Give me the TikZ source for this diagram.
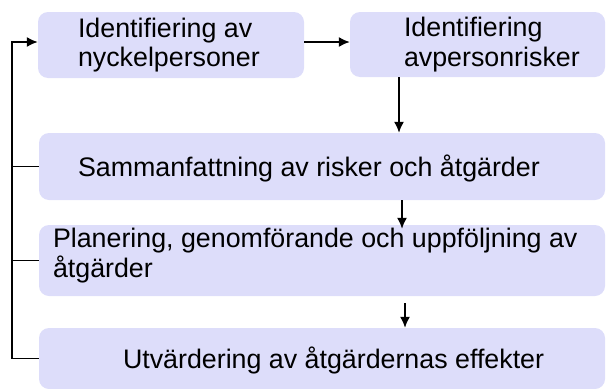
\documentclass[tikz,border=0pt]{standalone}
\usepackage{fontspec}
\setmainfont{Liberation Sans}
\usepackage{tikz}
\usetikzlibrary{arrows.meta}
\usepackage{xcolor}
\definecolor{BoxBlue}{RGB}{221,221,250}

\begin{document}
\begin{tikzpicture}[x=1pt,y=-1pt,
  box/.style={fill=BoxBlue, rounded corners=10pt, inner sep=0pt},
  txt/.style={align=left, inner sep=0pt, font=\fontsize{26.8}{29.5}\selectfont},
  conn/.style={line width=1.6pt},
  arr/.style={conn, -{Latex[length=11pt,width=10pt]}}]
\useasboundingbox (0,0) rectangle (607,388);
\node[box, minimum width=266pt, minimum height=66pt] (ident) at (171,45) {};
\node[box, minimum width=255pt, minimum height=65pt] (risk) at (477.5,44.5) {};
\node[box, minimum width=566pt, minimum height=67pt] (summ) at (322,166.5) {};
\node[box, minimum width=566pt, minimum height=71pt] (plan) at (322,260.5) {};
\node[box, minimum width=566pt, minimum height=61pt] (eval) at (322,358.5) {};
\node[txt, anchor=west] (identtxt) at ([xshift=40pt]ident.west) {Identifiering av\\nyckelpersoner};
\node[txt, anchor=west] (risktxt) at ([xshift=54pt]risk.west) {Identifiering\\avpersonrisker};
\node[txt, anchor=west] (summtxt) at ([xshift=39pt,yshift=-1.5pt]summ.west) {Sammanfattning av risker och åtgärder};
\node[txt, anchor=west] (plantxt) at ([xshift=14pt,yshift=5pt]plan.west) {Planering, genomförande och uppföljning av\\åtgärder};
\node[txt, anchor=west] (evaltxt) at ([xshift=84pt,yshift=-2pt]eval.west) {Utvärdering av åtgärdernas effekter};
\coordinate (rail) at (12,0);
\coordinate (drop1) at (399,0);
\coordinate (drop2) at (402,0);
\coordinate (drop3) at (405,0);
\coordinate (feed) at ([yshift=3pt]ident.west);
\coordinate (tip2) at ([yshift=-4pt]plan.north);
\coordinate (start3) at ([yshift=-7pt]plan.south);
\draw[arr] ([yshift=3pt]ident.east) -- (feed -| risk.west);
\draw[arr] (risk.south -| drop1) -- (summ.north -| drop1);
\draw[arr] (summ.south -| drop2) -- (tip2 -| drop2);
\draw[arr] (start3 -| drop3) -- (eval.north -| drop3);
% back to the start
\draw[arr] (eval.west) -- (eval.west -| rail) |- (feed);
\draw[conn] (summ.west) -- (summ.west -| rail);
\draw[conn] (plan.west) -- (plan.west -| rail);
\end{tikzpicture}
\end{document}
